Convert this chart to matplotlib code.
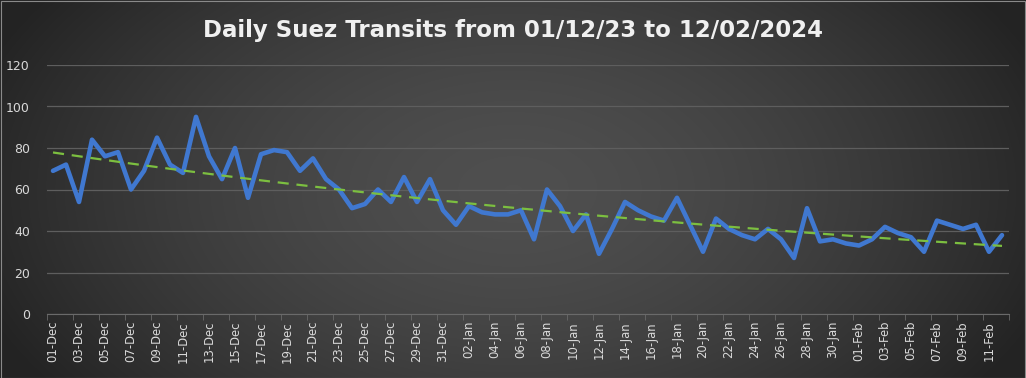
import numpy as np
import matplotlib
matplotlib.use("Agg")
import matplotlib.pyplot as plt
from matplotlib.patches import Rectangle

# Daily transits, 01-Dec-2023 .. 12-Feb-2024
dec_days = [f"{d:02d}-Dec" for d in range(1, 32)]
jan_days = [f"{d:02d}-Jan" for d in range(1, 32)]
feb_days = [f"{d:02d}-Feb" for d in range(1, 13)]
dates = dec_days + jan_days + feb_days

transits = [69, 72, 54, 84, 76, 78, 60, 69, 85, 72, 68, 95, 76, 65, 80, 56,
            77, 79, 78, 69, 75, 65, 60, 51, 53, 60, 54, 66, 54, 65, 50,
            43, 52, 49, 48, 48, 50, 36, 60, 52, 40, 48, 29, 41, 54, 50,
            47, 45, 56, 43, 30, 46, 41, 38, 36, 41, 36, 27, 51, 35, 36,
            34, 33, 36, 42, 39, 37, 30, 45, 43, 41, 43, 30, 38]

title = "Daily Suez Transits from 01/12/23 to 12/02/2024"
y_ticks = [0, 20, 40, 60, 80, 100, 120]

W, H = 1026, 378
fig = plt.figure(figsize=(W / 100, H / 100), dpi=100)

# radial-ish dark gradient background, like the Excel dark theme
bg = fig.add_axes([0, 0, 1, 1], zorder=-10)
yy, xx = np.mgrid[0:H, 0:W]
r = np.sqrt(((xx - W * 0.5) / (W * 0.55)) ** 2 + ((yy - H * 0.5) / (H * 0.9)) ** 2)
r = np.clip(r, 0, 1)
inner, outer = 0.31, 0.14
shade = inner + (outer - inner) * r ** 1.6
bg.imshow(np.dstack([shade] * 3), aspect="auto", extent=[0, 1, 0, 1])
bg.set_axis_off()
fig.patches.append(Rectangle((0.5 / W, 0.5 / H), 1 - 1.5 / W, 1 - 1.5 / H,
                             transform=fig.transFigure, fill=False,
                             ec="#8a8a8a", lw=0.8, zorder=-5))

ax = fig.add_axes([46.5 / W, 64 / H, 962 / W, 249 / H])
ax.set_facecolor("none")

x = np.arange(len(transits))
ax.plot(x, transits, color="#4078d0", lw=3.3, solid_joinstyle="round",
        solid_capstyle="round", zorder=3)

# exponential trendline (Excel style: linear fit on log values)
k, b = np.polyfit(x, np.log(transits), 1)
ax.plot(x, np.exp(b + k * x), color="#7cbf40", lw=1.6, dashes=(5, 3.5),
        zorder=4)

ax.set_xlim(-0.5, len(transits) - 0.5)
ax.set_ylim(0, 120)
ax.set_yticks(y_ticks)
ax.grid(axis="y", color="#5e5e5e", lw=0.9)
ax.set_axisbelow(True)

ax.set_xticks(x[::2])
ax.set_xticklabels(dates[::2], rotation=90)
ax.set_xticks(np.arange(-0.5, len(transits), 2), minor=True)
ax.tick_params(axis="x", which="major", length=0, pad=5, labelsize=8.4,
               colors="#d9d9d9")
ax.tick_params(axis="x", which="minor", length=4, color="#6a6a6a")
ax.tick_params(axis="y", length=0, pad=12, labelsize=9, colors="#d9d9d9")

for s in ["top", "right", "left"]:
    ax.spines[s].set_visible(False)
ax.spines["bottom"].set_color("#6a6a6a")

fig.text(0.5, 1 - 30 / H, title, ha="center", va="center", fontsize=16.5,
         fontweight="bold", color="#f0f0f0")

fig.savefig("out.png", dpi=100)
